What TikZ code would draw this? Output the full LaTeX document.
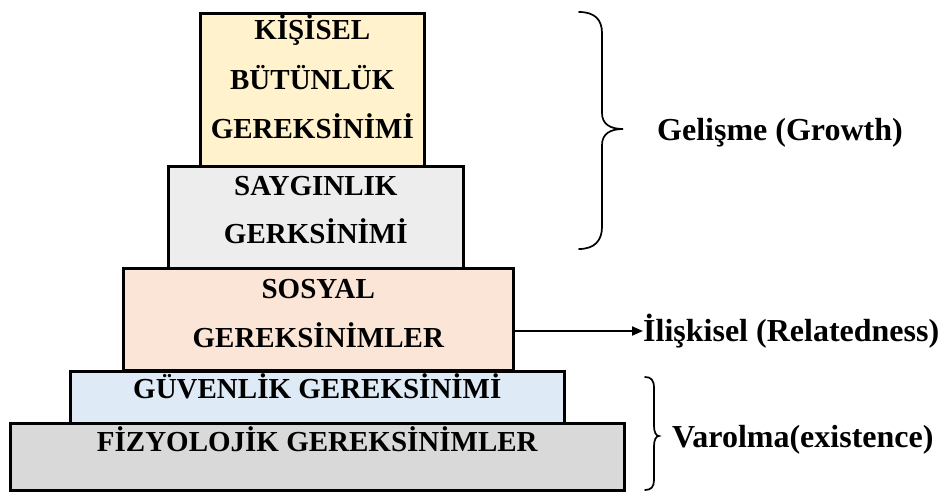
\documentclass[tikz,border=0pt]{standalone}
\usepackage{fontspec}
\setmainfont{Liberation Serif}
\usetikzlibrary{arrows.meta}
\definecolor{cyel}{HTML}{FFF2CC}
\definecolor{cgry}{HTML}{EDEDED}
\definecolor{cpnk}{HTML}{FBE5D6}
\definecolor{cblu}{HTML}{DEEBF7}
\definecolor{cbot}{HTML}{D9D9D9}
\begin{document}
\begin{tikzpicture}[x=1pt,y=-1pt,
  box/.style={draw=black, line width=2.6pt, anchor=north west, inner sep=0pt},
  btxt/.style={font=\fontsize{29}{34}\selectfont\bfseries, anchor=base, inner sep=0pt},
  ltxt/.style={font=\fontsize{32}{38}\selectfont\bfseries, anchor=base west, inner sep=0pt},
  bracestyle/.style={line width=1.7pt, line cap=round},
  arr/.style={line width=2pt, -{Triangle[length=11pt,width=9pt]}}]
\useasboundingbox (0,0) rectangle (941,492);
% boxes
\node[box, fill=cyel, minimum width=224pt, minimum height=153pt] (b1) at (199,12) {};
\node[box, fill=cgry, minimum width=295pt, minimum height=102pt] (b2) at (167,165) {};
\node[box, fill=cpnk, minimum width=390pt, minimum height=102pt] (b3) at (122,267) {};
\node[box, fill=cblu, minimum width=494pt, minimum height=52pt] (b4) at (69,370) {};
\node[box, fill=cbot, minimum width=614pt, minimum height=67pt] (b5) at (9,422) {};
% box texts
\node[btxt] (t1a) at (b1.north |- 0,40) {KİŞİSEL};
\node[btxt] (t1b) at (b1.north |- 0,90) {BÜTÜNLÜK};
\node[btxt] (t1c) at (b1.north |- 0,138) {GEREKSİNİMİ};
\node[btxt] (t2a) at (b2.north |- 0,195) {SAYGINLIK};
\node[btxt] (t2b) at (b2.north |- 0,243) {GERKSİNİMİ};
\node[btxt] (t3a) at (b3.north |- 0,298) {SOSYAL};
\node[btxt] (t3b) at (b3.north |- 0,347) {GEREKSİNİMLER};
\node[btxt] (t4) at (b4.north |- 0,398) {GÜVENLİK GEREKSİNİMİ};
\node[btxt] (t5) at (b5.north |- 0,451) {FİZYOLOJİK GEREKSİNİMLER};
% right labels
\node[ltxt] (grow) at (657,140.5) {Gelişme (Growth)};
\node[ltxt] (rel) at (643,341) {İlişkisel (Relatedness)};
\node[ltxt] (var) at (672,447) {Varolma(existence)};
% arrow
\coordinate (a0) at (b3.east |- 0,331);
\draw[arr] (a0) -- (rel.west |- a0);
% braces
\draw[bracestyle] (579,12) .. controls (595,12) and (602,20) .. (602,33) -- (602,113)
  .. controls (602,124) and (610,129) .. (623,129)
  .. controls (610,129) and (602,134) .. (602,145) -- (602,227)
  .. controls (602,240) and (595,249) .. (579,249);
\draw[bracestyle] (645,377) .. controls (651,377) and (654,380) .. (654,388) -- (654,426)
  .. controls (654,432) and (656,436) .. (659,436)
  .. controls (656,436) and (654,440) .. (654,446) -- (654,480)
  .. controls (654,487) and (651,490) .. (645,490);
\end{tikzpicture}
\end{document}
